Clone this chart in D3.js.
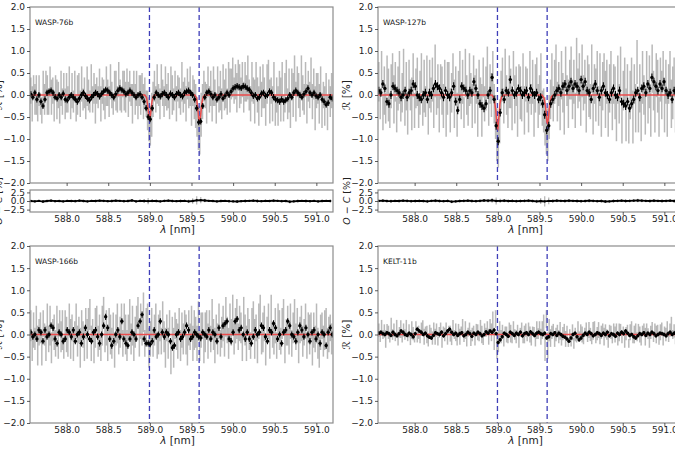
<!DOCTYPE html>
<html><head><meta charset="utf-8">
<script src="https://cdn.jsdelivr.net/npm/d3@7"></script>
<style>body{margin:0;background:#fff}svg{display:block;font-family:"DejaVu Sans",sans-serif}</style>
</head><body><svg id="c" width="675" height="450"></svg>
<script>
// ---------- data ----------
const planets = ["WASP-76b", "WASP-127b", "WASP-166b", "KELT-11b"];
const naLines = [588.995, 589.592];
const xTicks = [588.0, 588.5, 589.0, 589.5, 590.0, 590.5, 591.0];
const yTicks = [-2.0, -1.5, -1.0, -0.5, 0.0, 0.5, 1.0, 1.5, 2.0];
const resTicks = [-2.5, 0.0, 2.5];
const binStart = 587.57, binStep = 0.0243;   // binned spectrum sampling (nm)
const rawStart = 587.57, rawStep = 0.0165;   // raw spectrum sampling (nm)
const resStart = 587.57, resStep = 0.0486;   // residual sampling (nm)
const binErr = [0.07, 0.09, 0.07, 0.04];

const binW76 = [
0.02,-0.05,0.05,-0.1,0.0,-0.15,-0.25,-0.1,0.05,0.08,
0.1,0.05,-0.05,-0.08,0.0,-0.05,0.03,-0.1,-0.12,-0.05,
0.0,-0.05,-0.1,-0.15,-0.08,0.0,0.05,-0.02,-0.08,-0.12,
-0.05,0.0,0.05,0.02,-0.03,0.03,0.08,0.12,0.1,0.05,
0.0,-0.05,0.02,0.1,0.15,0.12,0.08,0.02,0.05,0.1,
0.05,0.0,-0.05,0.0,0.02,-0.05,-0.15,-0.3,-0.5,-0.55,
-0.3,-0.05,0.05,0.0,-0.03,0.02,0.05,0.0,-0.05,0.03,
0.0,-0.05,0.02,0.05,0.0,-0.03,0.05,0.08,0.1,0.05,
0.0,-0.1,-0.3,-0.62,-0.6,-0.25,-0.05,0.05,0.08,0.02,
-0.05,0.0,-0.1,-0.05,0.02,-0.08,-0.02,0.05,0.0,0.08,
0.15,0.18,0.2,0.18,0.16,0.2,0.19,0.15,0.12,0.05,
-0.02,0.0,-0.08,-0.05,0.03,0.05,-0.02,0.0,0.08,0.05,
-0.05,-0.1,-0.12,-0.15,-0.1,-0.15,-0.12,-0.08,0.0,-0.05,
0.05,0.1,0.05,0.0,-0.05,0.02,0.08,0.15,0.05,0.0,
0.05,-0.02,-0.05,0.0,-0.1,-0.15,-0.22,-0.18,-0.05,-0.08];

const binW127 = [
0.1,0.05,0.25,0.15,-0.15,-0.2,0.0,0.2,0.15,0.1,
0.05,-0.05,0.0,0.1,-0.05,0.05,0.1,0.25,0.2,0.0,
-0.05,-0.1,0.0,0.05,-0.1,0.05,0.0,0.15,0.25,0.2,
0.15,0.05,-0.05,0.1,0.0,-0.05,0.05,0.2,-0.15,-0.35,
-0.1,0.2,0.15,0.1,0.0,0.1,0.05,0.3,0.15,0.0,
-0.2,-0.25,-0.3,-0.2,0.0,0.1,0.4,-0.1,-0.7,-1.05,
-0.4,0.05,-0.1,0.1,0.05,0.35,0.1,0.0,0.05,0.15,
0.1,0.0,0.05,0.1,-0.05,0.15,0.05,0.0,0.05,-0.1,
-0.05,-0.2,-0.45,-0.8,-0.7,-0.2,-0.1,0.0,0.1,0.15,
0.05,0.2,0.25,0.1,0.2,0.3,0.15,0.25,0.2,0.1,
0.35,0.2,0.3,0.1,0.05,-0.1,0.15,0.25,0.1,-0.05,
0.1,0.2,0.05,0.0,-0.1,0.05,0.15,0.0,-0.05,0.1,
-0.15,-0.2,-0.25,-0.15,-0.3,-0.2,-0.1,0.05,0.1,-0.05,
0.15,0.2,0.05,0.25,0.15,0.4,0.3,0.2,0.1,0.25,
0.15,0.3,0.1,0.0,0.05,-0.1,0.1,0.05,-0.15,-0.1];

const binW166 = [
0.05,-0.05,0.0,-0.1,0.1,0.05,-0.15,0.1,-0.05,0.0,
0.2,0.15,-0.1,-0.2,0.05,0.0,-0.15,-0.1,0.1,0.05,
-0.05,0.1,-0.15,0.0,0.05,-0.2,-0.05,0.15,0.0,-0.1,
-0.15,0.05,0.1,-0.05,-0.2,0.0,0.2,0.4,0.15,-0.1,
-0.25,-0.15,0.0,0.1,-0.05,0.3,-0.1,-0.2,-0.25,-0.1,
0.05,0.0,-0.1,0.2,0.3,0.45,-0.1,-0.2,-0.2,-0.22,
-0.15,0.1,-0.05,0.0,0.3,0.05,-0.05,0.05,0.0,-0.15,
-0.3,-0.25,0.0,0.05,-0.1,-0.05,0.05,0.2,0.1,-0.1,
-0.05,0.05,0.0,-0.05,-0.08,0.05,0.0,-0.05,0.1,-0.1,
0.05,0.0,-0.15,0.15,-0.05,0.2,0.25,0.3,-0.1,-0.15,
0.05,0.3,0.35,0.1,0.15,0.0,-0.1,0.05,-0.1,-0.2,
-0.05,0.1,0.0,0.05,0.2,0.15,-0.05,-0.15,0.1,0.05,
0.25,0.15,-0.1,0.0,-0.2,0.05,0.1,0.3,0.2,0.0,
-0.05,-0.15,0.05,0.2,0.1,-0.05,0.15,0.0,-0.15,0.05,
0.1,-0.1,0.0,-0.2,0.05,0.0,-0.25,0.05,0.15,0.0];

const binK11 = [
0.03,0.05,0.02,0.0,0.04,0.02,-0.02,0.05,0.0,-0.03,
0.02,0.08,0.05,0.0,-0.02,0.03,0.0,-0.05,0.02,0.12,
0.08,0.05,0.0,0.03,-0.03,-0.06,-0.08,-0.02,0.04,0.02,
0.0,0.05,-0.03,0.02,0.08,0.12,0.05,0.0,0.03,-0.02,
0.02,0.04,-0.03,0.0,0.05,0.02,-0.04,0.03,0.0,0.05,
0.02,-0.03,0.0,0.06,0.03,0.08,0.05,0.1,0.02,-0.18,
-0.12,-0.05,0.03,0.0,-0.04,0.05,0.02,-0.02,0.03,0.0,
0.05,-0.03,0.02,0.04,0.0,0.06,0.02,-0.02,0.03,0.05,
0.02,0.0,0.03,-0.08,-0.05,0.02,0.0,0.04,-0.02,0.03,
0.0,-0.04,-0.06,-0.1,-0.15,-0.08,0.0,0.03,-0.05,-0.12,
-0.08,-0.02,0.03,0.0,0.05,0.02,-0.03,0.0,0.04,0.02,
-0.02,0.03,0.0,0.05,-0.03,0.02,0.0,-0.04,0.03,0.0,
0.05,0.02,0.08,0.03,-0.02,0.0,-0.05,-0.08,-0.03,0.02,
0.0,0.04,-0.02,0.03,0.0,0.05,0.02,-0.03,0.0,0.03,
0.02,0.0,-0.03,0.02,0.05,0.0,0.03,0.06,0.04,0.02];

const rawW76 = [
0.1,-0.2,0.2,-0.1,0.0,-0.3,0.1,-0.2,-0.35,0.15,
-0.1,0.25,0.0,-0.2,0.3,-0.05,0.1,-0.25,0.2,-0.1,
0.0,-0.3,0.15,-0.15,0.25,-0.2,0.05,-0.1,0.3,-0.25,
0.1,-0.15,0.2,-0.3,0.0,0.15,-0.2,0.25,-0.1,0.05,
-0.25,0.2,0.0,-0.15,0.3,-0.1,0.15,-0.2,0.1,-0.05,
0.25,-0.2,0.1,0.0,-0.3,0.2,0.05,-0.15,0.3,0.0,
-0.2,0.2,0.1,-0.1,0.35,0.0,-0.15,0.25,0.1,-0.05,
0.3,-0.1,0.2,0.0,-0.2,0.25,-0.1,0.15,-0.25,0.1,
0.0,0.2,-0.15,0.05,-0.2,-0.35,-0.55,-0.7,-0.45,-0.1,
0.2,-0.1,0.25,0.0,-0.2,0.3,0.05,-0.15,0.2,-0.05,
0.1,-0.25,0.3,0.0,-0.1,0.2,-0.2,0.15,0.05,-0.15,
0.3,-0.05,0.1,-0.2,0.25,0.0,0.2,-0.3,0.1,-0.1,
-0.25,-0.5,-0.75,-0.8,-0.45,-0.15,0.2,0.0,-0.2,0.3,
-0.1,0.15,-0.25,0.2,0.05,-0.3,0.25,-0.1,0.1,-0.2,
0.3,0.0,0.15,-0.15,0.35,0.1,0.25,0.4,0.1,0.3,
0.05,0.45,0.2,0.1,0.35,-0.05,0.3,0.15,0.4,0.0,
-0.2,0.3,0.1,-0.15,0.4,0.0,-0.25,0.35,-0.1,0.2,
0.05,-0.3,0.25,0.45,-0.15,0.1,-0.2,0.3,-0.35,0.0,
-0.25,0.2,-0.1,0.35,-0.3,0.05,0.4,-0.2,0.1,-0.35,
0.25,0.0,0.5,-0.15,0.3,0.1,-0.2,0.45,0.05,-0.1,
0.35,-0.2,0.2,0.0,0.4,-0.15,0.25,-0.3,0.1,0.15,
-0.2,0.3,-0.35,0.0,-0.25,0.15,-0.4,0.05,-0.15,0.1];
const errW76 = [
0.3,0.4,0.25,0.35,0.45,0.3,0.35,0.25,0.3,0.4,
0.35,0.3,0.45,0.25,0.35,0.4,0.3,0.35,0.25,0.45,
0.3,0.35,0.4,0.3,0.25,0.35,0.45,0.3,0.35,0.3,
0.4,0.25,0.35,0.3,0.45,0.35,0.3,0.4,0.25,0.35,
0.3,0.45,0.35,0.25,0.4,0.3,0.35,0.45,0.3,0.25,
0.35,0.4,0.3,0.35,0.25,0.45,0.3,0.35,0.4,0.3,
0.25,0.35,0.45,0.3,0.4,0.35,0.25,0.3,0.45,0.35,
0.3,0.4,0.35,0.25,0.45,0.3,0.35,0.4,0.3,0.35,
0.45,0.3,0.4,0.35,0.3,0.45,0.5,0.45,0.5,0.4,
0.35,0.3,0.45,0.25,0.35,0.4,0.3,0.35,0.45,0.3,
0.4,0.3,0.35,0.45,0.25,0.35,0.4,0.3,0.35,0.3,
0.45,0.35,0.3,0.4,0.35,0.3,0.45,0.4,0.35,0.45,
0.5,0.45,0.5,0.55,0.5,0.4,0.35,0.3,0.45,0.35,
0.3,0.4,0.35,0.45,0.3,0.35,0.4,0.3,0.45,0.35,
0.4,0.35,0.45,0.3,0.4,0.5,0.35,0.45,0.3,0.4,
0.45,0.35,0.5,0.3,0.4,0.35,0.45,0.3,0.5,0.35,
0.4,0.45,0.3,0.5,0.35,0.4,0.45,0.3,0.4,0.5,
0.35,0.4,0.45,0.35,0.5,0.3,0.4,0.45,0.35,0.4,
0.45,0.35,0.5,0.4,0.3,0.45,0.4,0.35,0.5,0.4,
0.35,0.5,0.4,0.45,0.35,0.4,0.3,0.45,0.4,0.35,
0.4,0.45,0.35,0.3,0.45,0.4,0.35,0.5,0.4,0.35,
0.45,0.35,0.4,0.3,0.45,0.35,0.4,0.3,0.35,0.4];

const rawW127 = [
0.3,-0.2,0.5,-0.4,0.1,-0.3,0.45,0.0,-0.35,0.2,
0.6,-0.1,0.3,-0.45,0.15,0.4,-0.25,0.05,0.55,-0.3,
0.2,-0.5,0.35,0.0,-0.2,0.45,-0.35,0.15,0.3,-0.4,
0.05,0.5,-0.3,0.2,-0.15,0.4,-0.45,0.25,0.0,0.35,
-0.3,0.55,-0.1,0.2,-0.4,0.3,0.1,-0.25,0.45,-0.5,
0.15,0.35,-0.35,0.05,0.6,-0.2,0.25,-0.45,0.1,0.4,
-0.15,0.3,-0.4,0.5,0.0,-0.3,0.35,0.15,-0.25,0.45,
-0.1,0.2,-0.5,0.3,0.05,-0.35,0.4,-0.2,0.15,0.55,
-0.3,0.25,0.0,0.45,-0.2,-0.5,-0.9,-1.1,-0.6,0.1,
0.35,-0.25,0.5,0.0,-0.4,0.3,0.15,-0.3,0.6,-0.1,
0.2,-0.45,0.35,0.05,-0.2,0.5,-0.35,0.25,0.1,-0.4,
0.4,-0.1,0.3,-0.5,0.15,0.45,-0.25,0.0,0.35,-0.3,
-0.35,-0.6,-0.85,-0.9,-0.5,-0.1,0.4,-0.2,0.3,0.55,
-0.15,0.25,-0.4,0.45,0.05,-0.3,0.6,0.1,-0.2,0.35,
0.5,-0.1,0.3,-0.35,0.65,0.15,0.4,-0.2,0.55,0.05,
0.3,-0.3,0.45,0.1,-0.15,0.6,-0.4,0.25,0.0,0.5,
-0.25,0.35,-0.45,0.2,0.55,-0.1,0.3,-0.5,0.15,0.4,
-0.3,0.25,0.05,-0.55,0.35,-0.2,0.5,-0.6,0.1,0.3,
-0.45,0.2,-0.65,0.0,0.35,-0.5,0.25,-0.3,0.75,-0.4,
0.15,-0.55,0.4,0.0,-0.35,0.5,-0.2,0.3,-0.45,0.6,
0.1,-0.3,0.45,0.2,-0.5,0.35,0.0,0.55,-0.25,0.3,
-0.4,0.25,0.5,-0.2,0.05,0.4,-0.35,0.2,-0.3,0.1];
const errW127 = [
0.45,0.35,0.5,0.4,0.55,0.35,0.45,0.6,0.4,0.5,
0.35,0.55,0.45,0.4,0.5,0.6,0.35,0.45,0.5,0.4,
0.55,0.4,0.45,0.35,0.6,0.5,0.4,0.45,0.55,0.35,
0.5,0.45,0.4,0.6,0.35,0.5,0.45,0.55,0.4,0.5,
0.45,0.6,0.35,0.5,0.45,0.4,0.55,0.5,0.35,0.45,
0.6,0.4,0.5,0.45,0.35,0.55,0.4,0.5,0.45,0.6,
0.4,0.5,0.35,0.55,0.45,0.4,0.6,0.35,0.5,0.45,
0.55,0.4,0.45,0.5,0.35,0.6,0.45,0.4,0.5,0.55,
0.4,0.45,0.5,0.55,0.45,0.5,0.6,0.55,0.5,0.45,
0.5,0.4,0.55,0.45,0.35,0.6,0.45,0.5,0.4,0.55,
0.45,0.5,0.35,0.6,0.4,0.45,0.55,0.4,0.5,0.45,
0.6,0.35,0.5,0.45,0.55,0.4,0.5,0.45,0.6,0.4,
0.5,0.55,0.5,0.6,0.5,0.45,0.55,0.4,0.5,0.6,
0.45,0.5,0.4,0.55,0.45,0.6,0.5,0.35,0.55,0.45,
0.6,0.45,0.5,0.4,0.65,0.45,0.55,0.5,0.6,0.4,
0.5,0.55,0.45,0.6,0.4,0.55,0.5,0.45,0.6,0.5,
0.45,0.6,0.5,0.55,0.4,0.65,0.5,0.45,0.55,0.6,
0.5,0.45,0.6,0.5,0.55,0.45,0.6,0.5,0.45,0.55,
0.6,0.5,0.45,0.55,0.5,0.6,0.45,0.55,0.5,0.45,
0.55,0.5,0.6,0.45,0.55,0.5,0.45,0.6,0.5,0.55,
0.45,0.55,0.5,0.6,0.45,0.5,0.55,0.45,0.6,0.5,
0.55,0.45,0.5,0.55,0.6,0.45,0.5,0.55,0.45,0.5];

const rawW166 = [
0.2,-0.3,0.1,-0.1,0.3,-0.25,0.05,0.15,-0.3,0.25,
0.0,-0.2,0.35,-0.1,0.2,-0.3,0.1,0.05,-0.2,0.3,
-0.15,0.25,-0.05,0.1,-0.3,0.2,0.0,-0.2,0.35,-0.1,
0.15,-0.25,0.05,0.3,-0.15,0.1,-0.3,0.2,0.0,-0.2,
0.25,-0.1,0.3,0.45,-0.2,0.1,-0.3,0.15,0.35,-0.15,
0.05,-0.3,0.2,0.5,-0.1,0.15,-0.25,0.3,0.0,-0.2,
0.2,-0.35,0.1,0.25,-0.15,0.05,0.3,-0.2,0.35,0.0,
-0.25,0.15,0.4,-0.1,0.2,-0.3,0.05,0.25,0.55,-0.15,
0.3,0.1,0.5,-0.2,0.2,0.35,-0.3,-0.1,0.25,-0.2,
0.1,0.3,-0.25,0.0,0.2,-0.15,0.35,-0.05,-0.3,0.15,
-0.2,0.25,-0.5,0.05,-0.3,0.2,0.0,-0.15,0.3,-0.25,
0.1,-0.1,0.25,0.0,-0.35,0.15,-0.05,0.3,-0.2,0.1,
0.05,-0.2,0.3,-0.25,0.1,0.2,-0.3,0.05,0.25,-0.15,
0.2,-0.1,0.35,0.0,-0.25,0.15,-0.1,0.3,-0.2,0.05,
0.25,-0.15,0.4,0.1,-0.2,0.3,0.05,0.45,-0.1,0.2,
0.35,-0.05,0.25,0.15,-0.3,0.4,0.1,-0.2,0.3,0.0,
-0.25,0.2,0.4,-0.1,0.15,-0.3,0.3,0.55,-0.15,0.05,
0.25,-0.35,0.1,0.3,-0.2,0.45,0.0,-0.1,0.2,-0.25,
0.35,0.1,-0.15,0.25,0.4,-0.3,0.05,0.2,-0.1,0.3,
-0.2,0.15,0.35,-0.05,0.2,-0.3,0.1,0.25,-0.15,0.05,
0.3,-0.25,0.15,0.0,0.2,-0.35,0.1,-0.1,0.25,-0.2,
-0.4,0.05,0.2,-0.15,0.1,0.3,-0.2,0.0,0.15,-0.1];
const errW166 = [
0.35,0.3,0.4,0.25,0.35,0.45,0.3,0.35,0.4,0.3,
0.25,0.4,0.35,0.3,0.45,0.35,0.25,0.4,0.3,0.35,
0.4,0.3,0.35,0.45,0.25,0.35,0.4,0.3,0.35,0.45,
0.3,0.35,0.25,0.4,0.35,0.3,0.45,0.35,0.3,0.4,
0.35,0.45,0.3,0.35,0.4,0.25,0.35,0.45,0.3,0.35,
0.4,0.3,0.45,0.35,0.3,0.4,0.35,0.3,0.45,0.35,
0.3,0.4,0.35,0.45,0.3,0.35,0.4,0.3,0.35,0.45,
0.35,0.3,0.4,0.35,0.45,0.3,0.35,0.4,0.3,0.35,
0.4,0.35,0.45,0.3,0.4,0.35,0.45,0.4,0.35,0.3,
0.35,0.4,0.3,0.45,0.35,0.3,0.4,0.35,0.45,0.3,
0.35,0.3,0.4,0.35,0.45,0.3,0.35,0.4,0.3,0.35,
0.4,0.35,0.3,0.45,0.35,0.4,0.3,0.35,0.4,0.45,
0.35,0.4,0.45,0.35,0.4,0.3,0.35,0.45,0.3,0.4,
0.35,0.3,0.45,0.35,0.4,0.3,0.35,0.4,0.3,0.35,
0.4,0.35,0.45,0.3,0.35,0.4,0.3,0.45,0.35,0.4,
0.45,0.3,0.4,0.35,0.3,0.45,0.35,0.4,0.3,0.35,
0.3,0.4,0.35,0.45,0.3,0.35,0.4,0.35,0.3,0.45,
0.4,0.35,0.3,0.4,0.35,0.45,0.3,0.35,0.4,0.3,
0.35,0.45,0.3,0.35,0.4,0.35,0.3,0.45,0.35,0.4,
0.3,0.35,0.45,0.3,0.4,0.35,0.3,0.4,0.35,0.3,
0.4,0.3,0.35,0.45,0.3,0.35,0.4,0.3,0.45,0.35,
0.35,0.4,0.3,0.35,0.45,0.3,0.35,0.4,0.3,0.35];

const rawK11 = [
0.1,-0.05,0.15,0.0,0.08,-0.1,0.12,0.05,-0.08,0.2,
0.0,0.1,-0.05,0.15,-0.1,0.05,0.12,-0.08,0.1,0.0,
0.15,-0.05,0.08,-0.12,0.1,0.02,-0.08,0.18,0.0,0.05,
-0.1,0.12,0.2,-0.05,0.08,0.0,-0.12,0.1,0.05,-0.08,
0.15,-0.05,0.1,-0.15,0.05,0.12,-0.1,0.08,0.0,0.15,
-0.08,0.1,0.02,-0.12,0.18,0.0,0.05,-0.1,0.12,-0.05,
0.08,0.2,-0.05,0.1,-0.12,0.05,0.15,-0.08,0.0,0.1,
-0.1,0.12,0.05,-0.05,0.18,0.0,-0.12,0.1,0.05,0.15,
-0.05,0.2,0.05,0.3,-0.1,0.35,-0.25,-0.15,0.1,-0.05,
0.1,-0.12,0.08,0.0,-0.08,0.12,0.02,-0.1,0.15,0.0,
-0.05,0.1,-0.12,0.05,0.12,-0.08,0.0,0.1,-0.05,0.15,
0.0,-0.1,0.08,0.05,-0.12,0.1,0.02,0.15,-0.05,0.1,
0.2,-0.3,0.35,-0.25,0.1,-0.08,0.05,0.12,-0.1,0.0,
0.1,-0.05,0.08,-0.15,0.02,0.12,-0.1,0.05,-0.18,0.0,
-0.12,0.05,-0.2,0.0,-0.08,0.1,-0.05,0.08,0.0,-0.1,
0.05,0.12,-0.05,0.1,0.0,-0.12,0.08,0.15,-0.08,0.02,
0.1,-0.1,0.05,0.15,-0.05,0.08,0.0,-0.12,0.12,0.05,
-0.08,0.1,0.0,0.15,-0.1,0.05,0.12,-0.05,0.08,-0.12,
0.02,0.1,-0.2,0.05,0.15,-0.08,0.0,0.1,-0.05,0.12,
0.0,-0.1,0.08,0.15,-0.05,0.1,0.02,-0.12,0.05,0.18,
-0.05,0.1,0.0,0.12,-0.08,0.05,0.15,-0.1,0.08,0.0,
0.12,-0.05,0.1,0.2,0.0,0.08,-0.1,0.15,0.05,0.1];
const errK11 = [
0.15,0.12,0.18,0.1,0.15,0.2,0.12,0.15,0.1,0.18,
0.12,0.15,0.1,0.18,0.15,0.12,0.2,0.1,0.15,0.12,
0.18,0.1,0.15,0.12,0.2,0.15,0.1,0.12,0.18,0.15,
0.1,0.15,0.12,0.18,0.1,0.2,0.15,0.12,0.1,0.15,
0.12,0.18,0.15,0.1,0.12,0.15,0.2,0.1,0.15,0.12,
0.15,0.1,0.18,0.12,0.15,0.1,0.2,0.15,0.12,0.18,
0.1,0.15,0.12,0.2,0.15,0.1,0.12,0.18,0.15,0.1,
0.15,0.12,0.18,0.1,0.15,0.2,0.12,0.15,0.1,0.15,
0.18,0.15,0.2,0.22,0.25,0.2,0.3,0.25,0.2,0.15,
0.12,0.15,0.1,0.18,0.12,0.15,0.2,0.1,0.15,0.12,
0.15,0.12,0.18,0.1,0.15,0.12,0.2,0.15,0.1,0.12,
0.18,0.15,0.1,0.12,0.15,0.2,0.12,0.15,0.18,0.2,
0.25,0.3,0.2,0.3,0.25,0.2,0.15,0.12,0.18,0.15,
0.12,0.15,0.2,0.1,0.15,0.12,0.18,0.15,0.1,0.12,
0.15,0.18,0.12,0.15,0.1,0.2,0.12,0.15,0.18,0.12,
0.1,0.15,0.12,0.18,0.15,0.1,0.2,0.15,0.12,0.15,
0.18,0.12,0.15,0.1,0.2,0.15,0.12,0.18,0.1,0.15,
0.12,0.15,0.18,0.1,0.15,0.2,0.12,0.15,0.1,0.18,
0.15,0.12,0.1,0.18,0.15,0.12,0.2,0.15,0.1,0.12,
0.18,0.15,0.12,0.1,0.2,0.15,0.12,0.18,0.15,0.1,
0.12,0.15,0.2,0.1,0.15,0.18,0.12,0.15,0.1,0.15,
0.18,0.12,0.15,0.2,0.1,0.15,0.12,0.18,0.15,0.12];

// best-fit model curves: [wavelength nm, R %]
const modelW76 = [[587.50,0],[588.94,0],[588.96,-0.06],[588.975,-0.25],[588.99,-0.52],[589.0,-0.55],[589.01,-0.4],[589.025,-0.15],[589.04,-0.03],[589.06,0],
  [589.54,0],[589.56,-0.06],[589.575,-0.3],[589.59,-0.6],[589.6,-0.62],[589.61,-0.45],[589.625,-0.18],[589.64,-0.04],[589.66,0],[591.30,0]];
const modelW127 = [[587.50,0],[588.93,0],[588.955,-0.08],[588.975,-0.35],[588.99,-0.72],[589.0,-0.76],[589.01,-0.55],[589.025,-0.2],[589.045,-0.04],[589.065,0],
  [589.53,0],[589.555,-0.07],[589.575,-0.3],[589.59,-0.62],[589.6,-0.65],[589.61,-0.48],[589.625,-0.18],[589.645,-0.03],[589.665,0],[591.30,0]];
const modelW166 = [[587.50,0],[591.30,0]];
const modelK11 = [[587.50,0],[591.30,0]];

// O - C residuals (top-row planets)
const resW76 = [
0.0,-0.1,0.05,-0.15,0.0,0.1,-0.05,0.0,-0.1,0.05,
0.0,-0.05,0.1,0.0,-0.1,0.05,0.0,0.1,0.05,-0.05,
0.0,0.1,0.05,-0.05,0.0,0.15,-0.1,0.05,0.0,-0.05,
0.05,0.0,-0.1,0.05,0.1,0.0,-0.05,0.0,0.05,-0.1,
0.0,0.2,0.25,0.15,0.05,0.0,-0.1,0.0,0.05,-0.05,
-0.1,-0.15,-0.05,0.0,0.05,0.1,0.0,-0.05,0.05,0.0,
0.1,0.05,-0.05,0.0,-0.2,-0.1,0.0,0.05,0.0,-0.05,
0.05,-0.1,0.0,0.05,0.0];
const resSpreadW76 = [
0.3,0.35,0.3,0.4,0.3,0.35,0.3,0.25,0.3,0.35,
0.3,0.4,0.3,0.35,0.3,0.3,0.35,0.3,0.4,0.3,
0.35,0.3,0.3,0.4,0.35,0.3,0.35,0.4,0.6,0.9,
0.5,0.35,0.3,0.4,0.3,0.35,0.3,0.4,0.35,0.5,
0.8,1.2,0.9,0.5,0.35,0.3,0.4,0.35,0.3,0.45,
0.35,0.4,0.3,0.45,0.35,0.4,0.5,0.35,0.4,0.3,
0.45,0.35,0.4,0.3,0.5,0.35,0.4,0.3,0.45,0.35,
0.3,0.4,0.35,0.3,0.35];
const resW127 = [
0.05,0.1,0.0,-0.05,0.05,0.0,0.1,0.05,-0.05,0.0,
0.05,0.0,-0.1,0.05,0.1,0.0,-0.05,0.05,-0.2,-0.1,
0.0,0.05,0.1,0.0,-0.05,0.05,0.15,0.1,0.2,0.0,
0.05,0.1,0.0,0.05,-0.05,0.0,0.05,0.1,0.0,-0.1,
0.0,-0.1,0.05,0.0,0.1,0.05,0.0,0.1,0.05,0.0,
-0.05,0.0,0.1,0.05,-0.05,0.0,-0.15,-0.1,0.0,0.05,
0.1,0.0,0.05,0.1,0.15,0.1,0.05,0.0,0.1,0.05,
0.0,0.05,0.1,0.0,0.05];
const resSpreadW127 = [
0.4,0.45,0.4,0.5,0.4,0.45,0.4,0.5,0.45,0.4,
0.5,0.4,0.45,0.4,0.5,0.45,0.4,0.5,0.45,0.4,
0.45,0.5,0.4,0.45,0.4,0.5,0.45,0.5,0.7,1.0,
0.6,0.45,0.4,0.5,0.45,0.4,0.5,0.45,0.4,0.5,
0.9,1.5,1.0,0.5,0.45,0.4,0.5,0.45,0.4,0.5,
0.45,0.4,0.5,0.45,0.4,0.5,0.45,0.4,0.5,0.45,
0.4,0.5,0.45,0.4,0.5,0.45,0.4,0.5,0.45,0.4,
0.5,0.45,0.4,0.5,0.45];

// ---------- drawing ----------
const svg = d3.select("#c");
const W = 303;
const layout = [
  {left: 30,  top: 7,   bottom: 183, resTop: 190, resBottom: 212},
  {left: 378, top: 7,   bottom: 183, resTop: 190, resBottom: 212},
  {left: 30,  top: 246, bottom: 423},
  {left: 378, top: 246, bottom: 423}
];
const bins = [binW76, binW127, binW166, binK11];
const raws = [rawW76, rawW127, rawW166, rawK11];
const errs = [errW76, errW127, errW166, errK11];
const models = [modelW76, modelW127, modelW166, modelK11];
const resids = [resW76, resW127, null, null];
const spreads = [resSpreadW76, resSpreadW127, null, null];

const FONT = '"DejaVu Sans", sans-serif';
const grey = "#9b9b9b", frame = "#8c8c8c", red = "#ec4b4b", blue = "#3f3fb8";
const fmt = d3.format(".1f");

function styleAxis(g) {
  g.attr("font-family", FONT).attr("font-size", 9);
  g.select(".domain").remove();
  g.selectAll(".tick line").attr("stroke", "#333").attr("stroke-width", 0.8);
  g.selectAll(".tick text").attr("fill", "#222");
}

planets.forEach((name, k) => {
  const L = layout[k];
  const x = d3.scaleLinear().domain([587.56, 591.2]).range([L.left, L.left + W]);
  const y = d3.scaleLinear().domain([-2, 2]).range([L.bottom, L.top]);
  const clipId = "clip" + k;
  svg.append("clipPath").attr("id", clipId).append("rect")
    .attr("x", L.left).attr("y", L.top).attr("width", W).attr("height", L.bottom - L.top);
  const g = svg.append("g").attr("clip-path", `url(#${clipId})`);

  // raw spectrum error bars (grey)
  g.append("g").selectAll("line").data(raws[k]).join("line")
    .attr("x1", (d, i) => x(rawStart + i * rawStep)).attr("x2", (d, i) => x(rawStart + i * rawStep))
    .attr("y1", (d, i) => y(d - errs[k][i])).attr("y2", (d, i) => y(d + errs[k][i]))
    .attr("stroke", grey).attr("stroke-opacity", 0.7).attr("stroke-width", 1.5);

  // sodium lines
  g.append("g").selectAll("line").data(naLines).join("line")
    .attr("x1", d => x(d)).attr("x2", d => x(d)).attr("y1", L.top).attr("y2", L.bottom)
    .attr("stroke", blue).attr("stroke-width", 1.3).attr("stroke-dasharray", "5,3");

  // model
  g.append("path").datum(models[k])
    .attr("d", d3.line().x(d => x(d[0])).y(d => y(d[1])))
    .attr("fill", "none").attr("stroke", red).attr("stroke-width", 1.5);

  // binned points
  const bg = g.append("g");
  bg.selectAll("line").data(bins[k]).join("line")
    .attr("x1", (d, i) => x(binStart + i * binStep)).attr("x2", (d, i) => x(binStart + i * binStep))
    .attr("y1", d => y(d - binErr[k])).attr("y2", d => y(d + binErr[k]))
    .attr("stroke", "#000").attr("stroke-width", 1.1);
  bg.selectAll("circle").data(bins[k]).join("circle")
    .attr("cx", (d, i) => x(binStart + i * binStep)).attr("cy", d => y(d))
    .attr("r", 1.7).attr("fill", "#000");

  // frame
  svg.append("rect").attr("x", L.left).attr("y", L.top).attr("width", W).attr("height", L.bottom - L.top)
    .attr("fill", "none").attr("stroke", frame).attr("stroke-width", 1.2);

  // y axis
  svg.append("g").attr("transform", `translate(${L.left},0)`)
    .call(d3.axisLeft(y).tickValues(yTicks).tickFormat(fmt).tickSize(3).tickPadding(2))
    .call(styleAxis);

  // planet name
  svg.append("text").attr("x", L.left + 5).attr("y", L.top + 18)
    .attr("font-family", FONT).attr("font-size", 7.5).attr("fill", "#111").text(name);

  // y label
  const yl = svg.append("text").attr("transform", `translate(${L.left - 28},${(L.top + L.bottom) / 2}) rotate(-90)`)
    .attr("text-anchor", "middle").attr("font-family", FONT).attr("font-size", 10.5).attr("fill", "#222");
  yl.append("tspan").attr("font-style", "italic").text("ℛ");
  yl.append("tspan").text(" [%]");

  let axisY = L.bottom;
  if (resids[k]) {
    const yr = d3.scaleLinear().domain([-3.2, 3.2]).range([L.resBottom, L.resTop]);
    const rc = "rclip" + k;
    svg.append("clipPath").attr("id", rc).append("rect")
      .attr("x", L.left).attr("y", L.resTop).attr("width", W).attr("height", L.resBottom - L.resTop);
    const rg = svg.append("g").attr("clip-path", `url(#${rc})`);
    rg.selectAll("line").data(resids[k]).join("line")
      .attr("x1", (d, i) => x(resStart + i * resStep)).attr("x2", (d, i) => x(resStart + i * resStep))
      .attr("y1", (d, i) => yr(d - spreads[k][i])).attr("y2", (d, i) => yr(d + spreads[k][i]))
      .attr("stroke", grey).attr("stroke-opacity", 0.7).attr("stroke-width", 1.3);
    rg.append("path").datum(resids[k])
      .attr("d", d3.line().x((d, i) => x(resStart + i * resStep)).y(d => yr(d)))
      .attr("fill", "none").attr("stroke", "#000").attr("stroke-width", 1.8);
    rg.selectAll("circle").data(resids[k]).join("circle")
      .attr("cx", (d, i) => x(resStart + i * resStep)).attr("cy", d => yr(d)).attr("r", 1.2).attr("fill", "#000");
    svg.append("rect").attr("x", L.left).attr("y", L.resTop).attr("width", W).attr("height", L.resBottom - L.resTop)
      .attr("fill", "none").attr("stroke", frame).attr("stroke-width", 1.2);
    svg.append("g").attr("transform", `translate(${L.left},0)`)
      .call(d3.axisLeft(yr).tickValues(resTicks).tickFormat(fmt).tickSize(3).tickPadding(2))
      .call(styleAxis);
    const rl = svg.append("text").attr("transform", `translate(${L.left - 28},${(L.resTop + L.resBottom) / 2}) rotate(-90)`)
      .attr("text-anchor", "middle").attr("font-family", FONT).attr("font-size", 9.5).attr("fill", "#222");
    rl.append("tspan").attr("font-style", "italic").text("O");
    rl.append("tspan").text(" − ");
    rl.append("tspan").attr("font-style", "italic").text("C");
    rl.append("tspan").text(" [%]");
    svg.append("g").attr("transform", `translate(0,${L.bottom})`)
      .call(d3.axisBottom(x).tickValues(xTicks).tickFormat("").tickSize(3))
      .call(styleAxis);
    axisY = L.resBottom;
  }
  svg.append("g").attr("transform", `translate(0,${axisY})`)
    .call(d3.axisBottom(x).tickValues(xTicks).tickFormat(fmt).tickSize(3).tickPadding(1))
    .call(styleAxis);
  const xl = svg.append("text").attr("x", L.left + W / 2 - 4).attr("y", axisY + 21)
    .attr("text-anchor", "middle").attr("font-family", FONT).attr("font-size", 10.5).attr("fill", "#222");
  xl.append("tspan").attr("font-style", "italic").text("λ");
  xl.append("tspan").text(" [nm]");
});
</script></body></html>
